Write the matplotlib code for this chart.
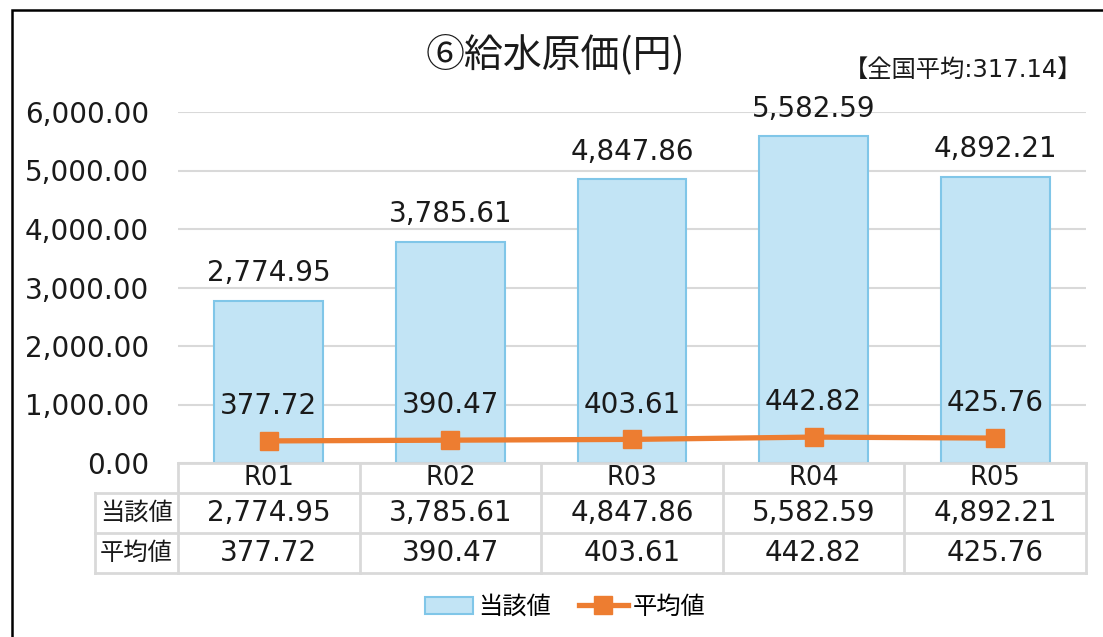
import matplotlib
matplotlib.use("Agg")
import matplotlib.pyplot as plt
from matplotlib.patches import Rectangle, Patch
from matplotlib.lines import Line2D
import numpy as np

plt.rcParams['font.family'] = ['DejaVu Sans', 'Noto Sans CJK JP']

categories = ['R01', 'R02', 'R03', 'R04', 'R05']
own_values = [2774.95, 3785.61, 4847.86, 5582.59, 4892.21]
avg_values = [377.72, 390.47, 403.61, 442.82, 425.76]
row_labels = ['当該値', '平均値']
title = '⑥給水原価(円)'
note = '【全国平均:317.14】'
yticks = [0, 1000, 2000, 3000, 4000, 5000, 6000]

bar_face = '#C2E4F5'
bar_edge = '#80C6E8'
line_col = '#ED7D31'
grid_col = '#D9D9D9'
txt_col = '#1a1a1a'

W, H = 1103, 637
fig = plt.figure(figsize=(W / 100, H / 100), dpi=100)
x0, x1, ytop, ybot = 178, 1086, 112, 463
ax = fig.add_axes([x0 / W, 1 - ybot / H, (x1 - x0) / W, (ybot - ytop) / H])

x = np.arange(len(categories))
ax.bar(x, own_values, width=0.6, color=bar_face, edgecolor=bar_edge, linewidth=1.5, zorder=2)
ax.plot(x, avg_values, color=line_col, lw=3.8, marker='s', ms=13, zorder=3)

for xi, v in zip(x, own_values):
    ax.annotate(f'{v:,.2f}', (xi, v), xytext=(0, 20), textcoords='offset points',
                ha='center', va='center', fontsize=20, color=txt_col)
for xi, v in zip(x, avg_values):
    ax.annotate(f'{v:,.2f}', (xi, v), xytext=(0, 25), textcoords='offset points',
                ha='center', va='center', fontsize=20, color=txt_col)

ax.set_xlim(-0.5, len(categories) - 0.5)
ax.set_ylim(0, 6000)
ax.set_yticks(yticks)
ax.set_yticklabels([f'{t:,.2f}' for t in yticks], fontsize=20, color=txt_col)
ax.tick_params(axis='y', length=0, pad=21)
ax.set_xticks([])
ax.grid(axis='y', color=grid_col, lw=1.5, zorder=0)
ax.set_axisbelow(True)
for s in ax.spines.values():
    s.set_visible(False)

# data table under the plot
axh = ybot - ytop
def ay(px):
    return -(px - ybot) / axh
rows_px = [463, 493, 533, 573]
lab_left = (95 - x0) / (x1 - x0)
tkw = dict(transform=ax.transAxes, clip_on=False, color=grid_col, lw=2)
ax.plot([0, 1], [ay(463)] * 2, **tkw)
for p in rows_px[1:]:
    ax.plot([lab_left, 1], [ay(p)] * 2, **tkw)
ax.plot([lab_left] * 2, [ay(493), ay(573)], **tkw)
n = len(categories)
for k in range(n + 1):
    ax.plot([k / n] * 2, [ay(463), ay(573)], **tkw)

for k, c in enumerate(categories):
    cx = (k + 0.5) / n
    ax.text(cx, ay(478), c, transform=ax.transAxes, ha='center', va='center', fontsize=18.5, color=txt_col)
    ax.text(cx, ay(513), f'{own_values[k]:,.2f}', transform=ax.transAxes, ha='center', va='center', fontsize=20, color=txt_col)
    ax.text(cx, ay(553), f'{avg_values[k]:,.2f}', transform=ax.transAxes, ha='center', va='center', fontsize=20, color=txt_col)
for lab, p in zip(row_labels, [513, 553]):
    ax.text(lab_left / 2, ay(p), lab, transform=ax.transAxes, ha='center', va='center',
            fontsize=17.5, family='Noto Sans CJK JP', color=txt_col)

fig.text(555 / W, 1 - 55 / H, title, ha='center', va='center', fontsize=28,
         family='Noto Sans CJK JP', color=txt_col)
fig.text(1082 / W, 1 - 70 / H, note, ha='right', va='center', fontsize=17.5, color=txt_col)

handles = [Patch(facecolor=bar_face, edgecolor=bar_edge, lw=1.5),
           Line2D([], [], color=line_col, lw=3.8, marker='s', ms=13)]
fig.legend(handles, row_labels, loc='center', bbox_to_anchor=(565 / W, 1 - 607 / H), ncol=2,
           frameon=False, prop={'family': 'Noto Sans CJK JP', 'size': 17.5},
           handlelength=2.0, handletextpad=0.2, columnspacing=1.15)

fig.add_artist(Rectangle((12 / W, -0.2), 1.2, 1.2 - 10 / H, transform=fig.transFigure,
                         fill=False, edgecolor='black', lw=1.8))

fig.savefig('out.png', dpi=100)
